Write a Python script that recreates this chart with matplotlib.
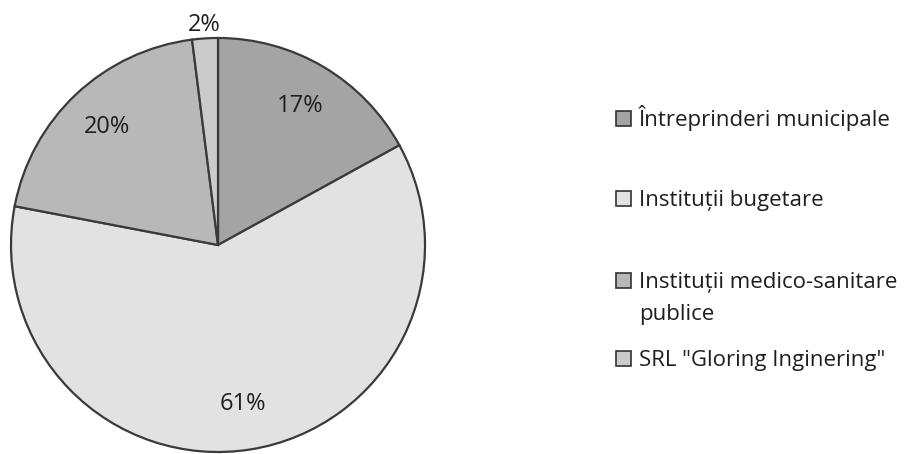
import numpy as np
import matplotlib.pyplot as plt
from matplotlib.patches import Rectangle

categories = ['Întreprinderi municipale', 'Instituții bugetare',
              'Instituții medico-sanitare\npublice', 'SRL "Gloring Inginering"']
shares = [17, 61, 20, 2]
colors = ['#a4a4a4', '#e2e2e2', '#b8b8b8', '#cbcbcb']

plt.rcParams['font.family'] = ['Open Sans', 'DejaVu Sans']

W, H = 912, 454
fig = plt.figure(figsize=(W / 100, H / 100), dpi=100)

# pie: centre (218, 245) px, radius 207 px
cx, cy, r = 218, 245, 207
ax = fig.add_axes([(cx - r) / W, (H - cy - r) / H, 2 * r / W, 2 * r / H])
wedges, texts, autotexts = ax.pie(
    shares, colors=colors, startangle=90, counterclock=False,
    autopct='%d%%', pctdistance=0.78,
    wedgeprops=dict(edgecolor='#3a3a3a', linewidth=1.6),
    textprops=dict(fontsize=17, color='#1e1e1e'))
ax.set_xlim(-1, 1)
ax.set_ylim(-1, 1)

# small slice label outside
w = wedges[3]
mid = np.deg2rad((w.theta1 + w.theta2) / 2)
autotexts[3].set_position((1.065 * np.cos(mid), 1.065 * np.sin(mid)))
autotexts[3].set_clip_on(False)

# legend, drawn by hand (baselines in px)
leg_base = [126, 206, 288, 366]
for lab, col, yb in zip(categories, colors, leg_base):
    fig.patches.append(Rectangle((616 / W, (H - yb) / H), 15 / W, 15 / H,
                                 transform=fig.transFigure, facecolor=col,
                                 edgecolor='#333333', linewidth=1.2))
    for k, line in enumerate(lab.split('\n')):
        fig.text(639 / W, (H - yb - 32 * k) / H, line, fontsize=16,
                 color='#1e1e1e', va='baseline', ha='left')

fig.savefig('out.png', dpi=100, facecolor='white')
